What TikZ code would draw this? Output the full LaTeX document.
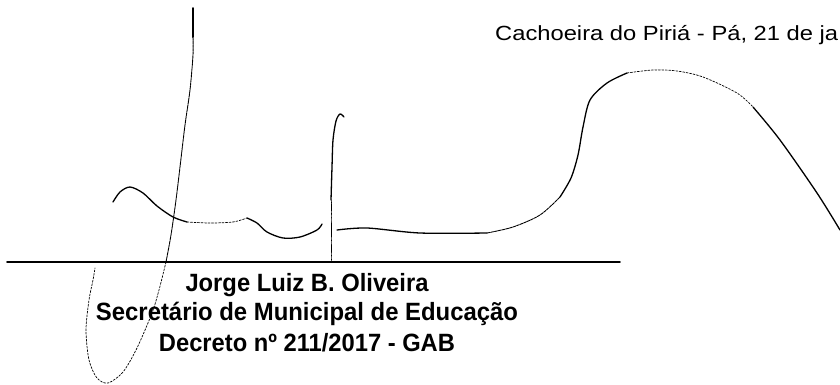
\documentclass[tikz,border=0pt]{standalone}
\usepackage{fontspec}
\setmainfont{Liberation Sans}
\newcommand{\fitw}[2]{\resizebox{#1}{\height}{#2}}
\begin{document}
\begin{tikzpicture}[x=1pt,y=-1pt,line join=round,line cap=round]
            \tikzset{pen/.style={line width=1.3pt},
                thinpen/.style={line width=0.9pt,dash pattern=on 3pt off 0.8pt},
                faint/.style={line width=0.7pt,dash pattern=on 2pt off 1.5pt},
                place/.style={inner sep=0pt,anchor=base west,font=\fontsize{20.5}{24}\selectfont},
                signer/.style={inner sep=0pt,anchor=base,font=\bfseries\fontsize{25}{28}\selectfont}}
            \def \rulex{7}
            \def \ruley{262}
            \useasboundingbox (0,0) rectangle (840,384);
            \node[place] (place) at (495,40) {\fitw{343pt}{Cachoeira do Piriá - Pá, 21 de ja}};
            \coordinate (rulea) at (\rulex,\ruley);
            \coordinate (ruleb) at (620,\ruley);
            \draw[line width=1.6pt] (rulea)--(ruleb);
            \node[signer] (name) at (307,291) {\fitw{243pt}{Jorge Luiz B. Oliveira}};
            \node[signer] (office) at (307,320) {\fitw{422pt}{Secretário de Municipal de Educação}};
            \node[signer] (decree) at (307,351) {\fitw{296pt}{Decreto nº 211/2017 - GAB}};
            \draw[line width=2pt] (193,8)--(193,37);
            \draw[thinpen] plot[smooth] coordinates {(193,37) (193,55) (190,90) (185,125) (180,167) (176,200) (171,235) (166,262)};
            \draw[faint] plot[smooth] coordinates {(166,262) (159,290) (152,313) (137,348) (123,372) (108,383) (97,378) (89,360) (86,330) (89,300) (93,280) (95,268)};
            \draw[pen] plot[smooth] coordinates {(113,202) (120,192) (130,187) (143,193) (157,206) (173,217) (187,222)};
            \draw[faint] plot[smooth] coordinates {(187,222) (210,223) (233,222) (247,218)};
            \draw[pen] plot[smooth] coordinates {(247,218) (257,223) (267,232) (283,238) (300,237) (317,230) (322,224)};
            \draw[pen] plot[smooth] coordinates {(344,117) (340,114) (336,121) (333,140) (332,167) (331,200)};
            \draw[thinpen] plot[smooth] coordinates {(331,200) (331,230) (331,262)};
            \draw[pen] plot[smooth] coordinates {(337,230) (367,228) (420,233) (487,233)};
            \draw[thinpen] plot[smooth] coordinates {(487,233) (513,227) (540,215) (560,197)};
            \draw[pen] plot[smooth] coordinates {(560,197) (571,178) (578,155) (583,127) (590,100) (607,83) (627,73)};
            \draw[faint] plot[smooth] coordinates {(627,73) (653,70) (677,71) (703,77) (737,93) (753,107)};
            \draw[pen] plot[smooth] coordinates {(753,107) (780,140) (817,193) (840,230)};
        \end{tikzpicture}
\end{document}
